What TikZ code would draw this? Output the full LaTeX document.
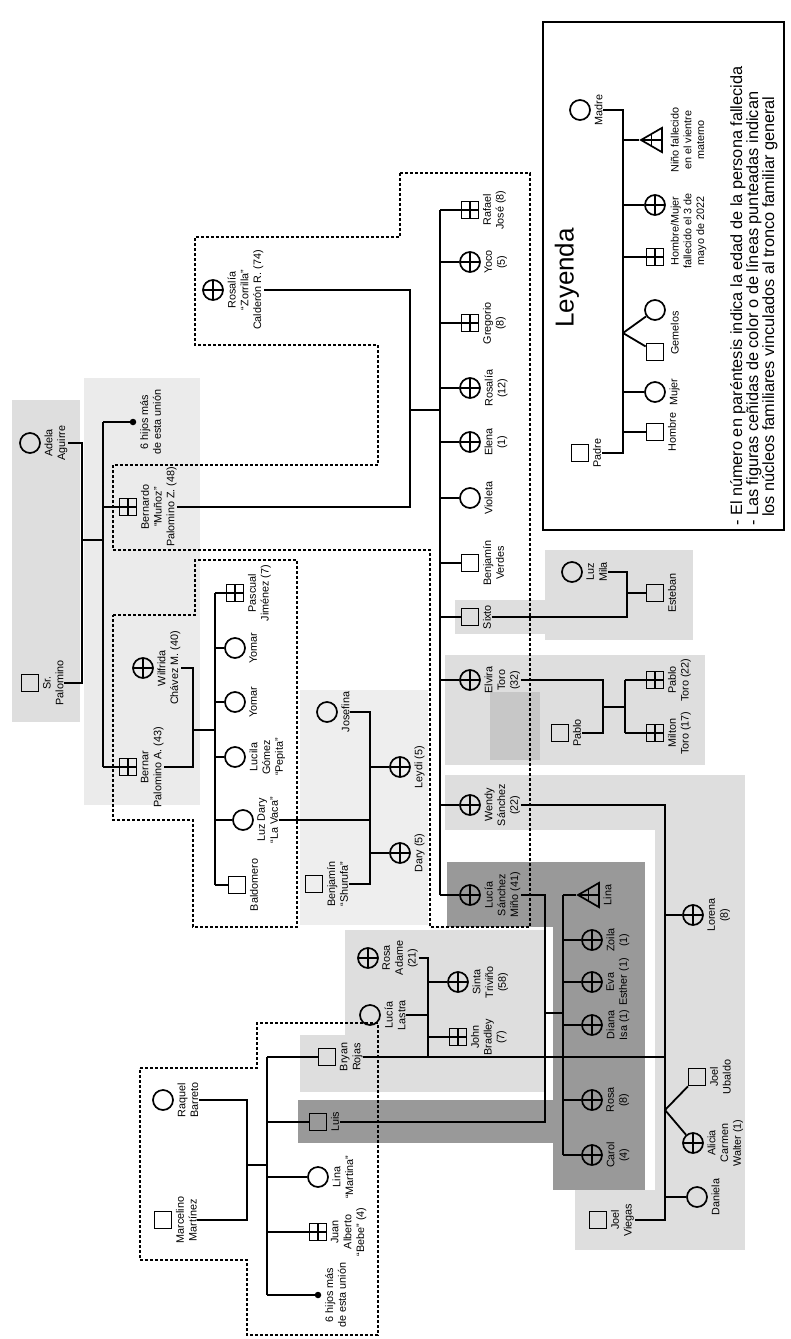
\documentclass[tikz,border=0pt]{standalone}
\usepackage{fontspec}
\setmainfont{Liberation Sans}
\usetikzlibrary{shapes.geometric}
\colorlet{lg}{black!13}
\colorlet{mg}{black!22}
\colorlet{dg}{black!40}
\tikzset{
  conn/.style={line width=1.8pt},
  dsh/.style={line width=1.2pt, dash pattern=on 3pt off 2pt},
  lab/.style={rotate=90, anchor=north, align=center, font=\fontsize{10.8}{12.8}\selectfont, inner sep=0.5pt},
  sym/.style={draw, line width=1.7pt, inner sep=0pt},
  male/.style={sym, rectangle, minimum size=17pt},
  fem/.style={sym, circle, minimum size=20pt},
  crs/.style={path picture={\draw[line width=1.5pt] (path picture bounding box.north)--(path picture bounding box.south) (path picture bounding box.west)--(path picture bounding box.east);}},
  maled/.style={male, crs},
  femd/.style={fem, crs},
  dotn/.style={circle, fill=black, minimum size=6.5pt, inner sep=0pt},
  tri/.style={sym, regular polygon, regular polygon sides=3, shape border rotate=90, minimum size=28pt, crs},
}
\newcommand\pers[5]{\node[#1] (#2) at (#3,#4) {};\node[lab] (#2l) at ([xshift=3pt]#2.east) {#5};}
\begin{document}
\begin{tikzpicture}[x=1pt,y=-1pt]
\useasboundingbox[fill=white] (0,0) rectangle (791,1339);
% backgrounds
\fill[lg] (12,400) rectangle (80,722);
\fill[lg!60] (84,378) rectangle (200,805);
\fill[lg!50] (300,690) rectangle (428,925);
\fill[lg] (545,550) rectangle (693,640);
\fill[lg] (455,600) rectangle (545,634);
\fill[lg] (445,655) rectangle (705,765);
\fill[mg] (490,692) rectangle (540,760);
\fill[lg] (445,775) rectangle (745,830);
\fill[lg] (655,775) rectangle (745,1250);
\fill[lg] (575,1190) rectangle (745,1250);
\fill[lg] (345,930) rectangle (545,1050);
\fill[lg] (300,1035) rectangle (545,1092);
\fill[dg] (447,862) rectangle (645,927);
\fill[dg] (553,862) rectangle (645,1190);
\fill[dg] (298,1100) rectangle (553,1143);
% dashed family outlines
\draw[dsh] (400,173) -- (530,173) -- (530,927) -- (430,927) -- (430,550) -- (113,550) -- (113,465) -- (378,465) -- (378,345) -- (195,345) -- (195,237) -- (400,237) -- cycle;
\draw[dsh] (113,615) -- (195,615) -- (195,560) -- (297,560) -- (297,927) -- (193,927) -- (193,820) -- (113,820) -- cycle;
\draw[dsh] (140,1068) -- (257,1068) -- (257,1023) -- (378,1023) -- (378,1335) -- (247,1335) -- (247,1260) -- (140,1260) -- cycle;
% generation 1
\pers{fem}{adela}{30}{443}{Adela\\Aguirre}
\pers{male}{palo}{30}{683}{Sr.\\Palomino}
% generation 2
\pers{dotn}{dota}{133}{422}{6 hijos más\\de esta unión}
\pers{maled}{bera}{128}{507}{Bernardo\\“Muñoz”\\Palomino Z. (48)}
\pers{maled}{berb}{128}{767}{Bernar\\Palomino A. (43)}
\pers{femd}{rosal}{213}{290}{Rosalía\\“Zorrilla”\\Calderón R. (74)}
\pers{femd}{wilf}{143}{668}{Wilfrida\\Chávez M. (40)}
% children of Bernar / Wilfrida
\pers{maled}{ga}{235}{593}{Pascual\\Jiménez (7)}
\pers{fem}{gb}{235}{648}{Yomar}
\pers{fem}{gc}{235}{702}{Yomar}
\pers{fem}{gd}{235}{757}{Lucila\\Gómez\\“Pepita”}
\pers{fem}{ge}{243}{820}{Luz Dary\\“La Vaca”}
\pers{male}{gf}{237}{885}{Baldomero}
\pers{fem}{jos}{327}{712}{Josefina}
\pers{male}{benj}{314}{884}{Benjamín\\“Shurufa”}
\pers{femd}{leydi}{400}{767}{Leydi (5)}
\pers{femd}{dary}{400}{853}{Dary (5)}
% children of Bernardo / Rosalía
\pers{maled}{ka}{470}{210}{Rafael\\José (8)}
\pers{femd}{kb}{470}{262}{Yoco\\(5)}
\pers{maled}{kc}{470}{323}{Gregorio\\(8)}
\pers{femd}{kd}{470}{388}{Rosalía\\(12)}
\pers{femd}{ke}{470}{442}{Elena\\(1)}
\pers{fem}{kf}{470}{498}{Violeta}
\pers{male}{kg}{470}{563}{Benjamín\\Verdes}
\pers{male}{kh}{470}{617}{Sixto}
\pers{femd}{ki}{470}{680}{Elvira\\Toro\\(32)}
\pers{femd}{kj}{470}{805}{Wendy\\Sánchez\\(22)}
\pers{femd}{kk}{470}{895}{Lucía\\Sánchez\\Miño (41)}
% Luz Mila family
\pers{fem}{lmila}{572}{572}{Luz\\Mila}
\pers{male}{esteb}{655}{593}{Esteban}
% Elvira family
\pers{male}{pablo}{560}{733}{Pablo}
\pers{maled}{ta}{655}{680}{Pablo\\Toro (22)}
\pers{maled}{tb}{655}{733}{Milton\\Toro (17)}
% Wendy family
\pers{femd}{lore}{693}{915}{Lorena\\(8)}
\pers{male}{twa}{697}{1077}{Joel\\Ubaldo}
\pers{femd}{twb}{693}{1143}{Alicia\\Carmen\\Walter (1)}
\pers{fem}{dan}{697}{1197}{Daniela}
\pers{male}{joel}{598}{1220}{Joel\\Viegas}
% Lucía family
\pers{tri}{lina}{592}{895}{Lina}
\pers{femd}{la}{592}{940}{Zoila\\(1)}
\pers{femd}{lb}{592}{982}{Eva\\Esther (1)}
\pers{femd}{lc}{592}{1025}{Diana\\Isa (1)}
\pers{femd}{ld}{592}{1100}{Rosa\\(8)}
\pers{femd}{le}{592}{1155}{Carol\\(4)}
% Rosa Adame family
\pers{femd}{radame}{368}{958}{Rosa\\Adame\\(21)}
\pers{fem}{lastra}{370}{1015}{Lucía\\Lastra}
\pers{femd}{sinta}{458}{982}{Sinta\\Triviño\\(58)}
\pers{maled}{john}{458}{1037}{John\\Bradley\\(7)}
% Marcelino family
\pers{fem}{raq}{163}{1100}{Raquel\\Barreto}
\pers{male}{marc}{163}{1220}{Marcelino\\Martínez}
\pers{male}{bryan}{327}{1057}{Bryan\\Rojas}
\pers{male}{luis}{318}{1122}{Luis}
\pers{fem}{linm}{318}{1177}{Lina\\“Martina”}
\pers{maled}{juan}{318}{1232}{Juan\\Alberto\\“Bebe” (4)}
\pers{dotn}{dotb}{318}{1295}{6 hijos más\\de esta unión}
% junction coordinates
\coordinate (c1) at (82,540);   \coordinate (s1) at (103,540);
\coordinate (c2) at (410,410);  \coordinate (s2) at (440,410);
\coordinate (c3) at (193,730);  \coordinate (s3) at (215,730);
\coordinate (c4) at (370,820);
\coordinate (c5) at (627,593);
\coordinate (c6) at (603,707);  \coordinate (s6) at (625,707);
\coordinate (c7) at (665,1000); \coordinate (tw) at (665,1110);
\coordinate (c8) at (545,1013); \coordinate (s8) at (563,1013);
\coordinate (c9) at (428,1000);
\coordinate (c10) at (247,1165); \coordinate (s10) at (267,1165);
% connectors
\begin{scope}[conn]
\draw (adelal.south) -| (c1) |- (palol.south);
\draw (c1) -- (s1);
\draw (s1 |- dota) -- (s1 |- berb);
\foreach \n in {dota,bera,berb} \draw (s1 |- \n) -- (\n);
\draw (beral.south) -| (c2) |- (rosall.south);
\draw (c2) -- (s2);
\draw (s2 |- ka) -- (s2 |- kk);
\foreach \n in {ka,kb,kc,kd,ke,kf,kg,kh,ki,kj,kk} \draw (s2 |- \n) -- (\n);
\draw (wilfl.south) -| (c3) |- (berbl.south);
\draw (c3) -- (s3);
\draw (s3 |- ga) -- (s3 |- gf);
\foreach \n in {ga,gb,gc,gd,ge,gf} \draw (s3 |- \n) -- (\n);
\draw (gel.south) -- (c4);
\draw (josl.south) -| (c4) |- (benjl.south);
\foreach \n in {leydi,dary} \draw (c4 |- \n) -- (\n);
\draw (khl.south) -| (c5) |- (lmilal.south);
\draw (c5) -- (esteb);
\draw (kil.south) -| (c6) |- (pablol.south);
\draw (c6) -- (s6);
\draw (s6 |- ta) -- (s6 |- tb);
\foreach \n in {ta,tb} \draw (s6 |- \n) -- (\n);
\draw (kjl.south) -| (c7) |- (joell.south);
\foreach \n in {lore,dan} \draw (c7 |- \n) -- (\n);
\draw (tw) -- (twa);
\draw (tw) -- (twb);
\draw (bryanl.south) -- (bryanl.south -| c7);
\draw (kkl.south) -| (c8) |- (luisl.south);
\draw (c8) -- (s8);
\draw (s8 |- lina) -- (s8 |- le);
\foreach \n in {lina,la,lb,lc,ld,le} \draw (s8 |- \n) -- (\n);
\draw (radamel.south) -| (c9 |- bryan);
\draw (lastral.south) -- (lastral.south -| c9);
\foreach \n in {sinta,john} \draw (c9 |- \n) -- (\n);
\draw (raql.south) -| (c10) |- (marcl.south);
\draw (c10) -- (s10);
\draw (s10 |- bryan) -- (s10 |- dotb);
\foreach \n in {bryan,luis,linm,juan,dotb} \draw (s10 |- \n) -- (\n);
\end{scope}
% legend
\draw[line width=1.7pt] (543,22) rectangle (784,530);
\node[rotate=90, font=\fontsize{26}{28}\selectfont] (ley) at (567,278) {Leyenda};
\pers{fem}{lmad}{580}{110}{Madre}
\pers{male}{lpad}{580}{453}{Padre}
\node[tri] (ltri) at (655,140) {};
\node[lab] (ltril) at (670,140) {Niño fallecido\\en el vientre\\materno};
\node[femd] (lcx) at (655,205) {};
\node[maled] (lsx) at (655,257) {};
\node[lab] (ldl) at (670,231) {Hombre/Mujer\\fallecido el 3 de\\mayo de 2022};
\node[fem] (lgc) at (655,310) {};
\node[male] (lgs) at (655,352) {};
\node[lab] (lgl) at (670,333) {Gemelos};
\pers{fem}{lmuj}{655}{392}{Mujer}
\pers{male}{lhom}{655}{432}{Hombre}
\coordinate (cl) at (623,300);
\coordinate (ltw) at (623,333);
\begin{scope}[conn]
\draw (lmadl.south) -| (cl) |- (lpadl.south);
\foreach \n in {ltri,lcx,lsx,lmuj,lhom} \draw (cl |- \n) -- (\n);
\draw (ltw) -- (lgc);
\draw (ltw) -- (lgs);
\end{scope}
\node[rotate=90, anchor=north west, align=left, font=\fontsize{16.3}{16}\selectfont, inner sep=0pt] (notes) at (730,526)
  {- El número en paréntesis indica la edad de la persona fallecida\\
   - Las figuras ceñidas de color o de líneas punteadas indican\\
   \ \ los núcleos familiares vinculados al tronco familiar general};
\end{tikzpicture}
\end{document}
